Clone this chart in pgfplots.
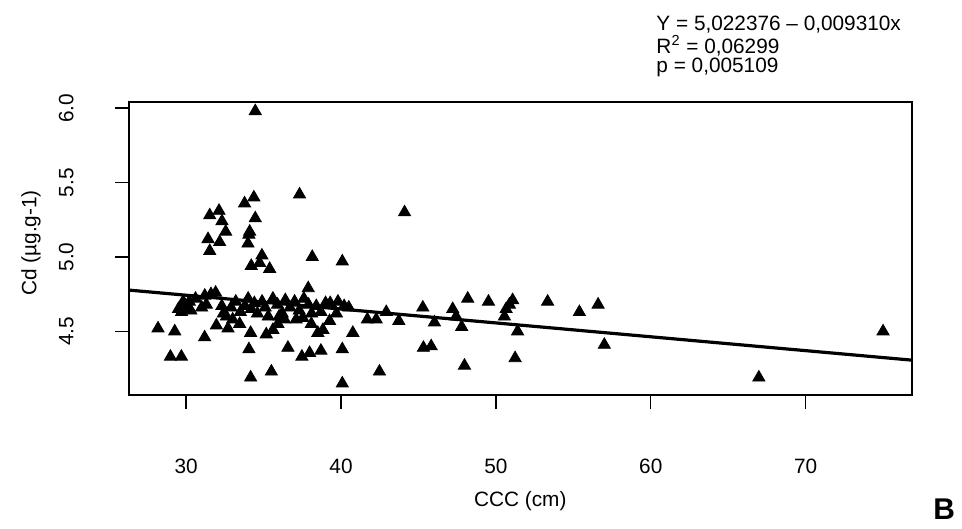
\documentclass[border=0pt]{standalone}
\usepackage{pgfplots}
\pgfplotsset{compat=1.18}
\usepackage{fontspec}
\setmainfont{Liberation Sans}
\begin{document}
\fontsize{10.4}{12.5}\selectfont
\begin{tikzpicture}
\begin{axis}[
  at={(0,0)}, anchor=south west,
  scale only axis, width=391.7pt, height=147pt,
  xmin=26.3, xmax=76.85, ymin=4.07, ymax=6.044,
  axis line style={line width=0.9pt},
  xtick={30,40,50,60,70}, xticklabels={30,40,50,60,70},
  ytick={4.5,5,5.5,6}, yticklabels={4.5,5.0,5.5,6.0},
  xtick pos=bottom, ytick pos=left,
  tick align=outside, major tick length=7pt,
  tick style={line width=0.7pt, black},
  xticklabel style={font=\fontsize{10.4}{12}\selectfont, yshift=-21pt},
  yticklabel style={font=\fontsize{10.4}{12}\selectfont, xshift=-6pt, rotate=90, anchor=south},
  yticklabel shift=11pt,
  xlabel={CCC (cm)}, ylabel={Cd (µg.g-1)},
  xlabel style={font=\fontsize{10.4}{12}\selectfont, at={(axis description cs:0.5,0)}, anchor=center, yshift=-53pt},
  every axis y label/.style={at={(axis description cs:-0.125,0.519)}, rotate=90, anchor=center, font=\fontsize{10.4}{12}\selectfont},
  clip=false,
]
\addplot[only marks, mark=triangle*, mark size=3.5pt, black] coordinates {
(34.46,5.98) (34.37,5.40) (33.77,5.36) (37.32,5.42) (34.46,5.26) (31.52,5.28)
(32.12,5.31) (32.31,5.24) (32.55,5.17) (34.10,5.17) (34.05,5.15) (31.41,5.12)
(32.16,5.10) (33.99,5.09) (31.52,5.04) (34.89,5.01) (38.14,5.00) (40.08,4.97)
(34.20,4.94) (34.74,4.96) (35.39,4.92) (37.88,4.79) (44.10,5.30)
(29.5,4.65) (29.7,4.63) (29.9,4.68) (30.1,4.66) (30.3,4.64) (29.8,4.70) (30.2,4.70)
(31.2,4.74) (31.6,4.75) (31.9,4.76) (31.3,4.68) (32.3,4.67) (32.4,4.62) (32.6,4.60)
(32.9,4.66) (33.2,4.70) (33.5,4.63) (33.8,4.67) (34.0,4.72) (34.2,4.65) (34.4,4.69)
(34.6,4.62) (34.9,4.70) (35.1,4.66) (35.3,4.60) (35.6,4.72) (35.9,4.68) (36.2,4.62)
(36.4,4.71) (36.7,4.66) (37.0,4.70) (37.3,4.64) (37.6,4.72) (37.9,4.68) (38.1,4.62)
(38.4,4.67) (38.7,4.63) (39.0,4.69) (39.3,4.69) (39.8,4.70) (40.2,4.67) (39.7,4.62)
(40.5,4.66) (30.6,4.72) (31.0,4.66) (33.0,4.58) (36.0,4.60) (37.1,4.58)
(31.95,4.54) (32.7,4.52) (33.45,4.55) (34.16,4.49) (35.17,4.48) (35.6,4.51)
(35.92,4.55) (36.35,4.58) (37.53,4.59) (38.08,4.55) (38.5,4.49) (38.83,4.51)
(39.26,4.57) (38.70,4.37)
(28.18,4.52) (29.26,4.50) (31.19,4.46) (28.98,4.33) (29.69,4.33) (34.05,4.38)
(34.16,4.19) (35.50,4.23) (36.57,4.39) (37.47,4.33) (37.97,4.355) (40.08,4.38)
(40.08,4.15) (40.76,4.49) (41.7,4.58) (42.27,4.58) (42.48,4.23) (42.92,4.63)
(43.73,4.57) (45.28,4.66) (45.32,4.39) (45.82,4.40) (46.03,4.56) (47.21,4.65)
(47.43,4.60) (47.79,4.53) (47.97,4.27) (48.18,4.72) (49.52,4.70) (51.08,4.71)
(50.87,4.68) (50.66,4.65) (50.55,4.60) (51.40,4.50) (51.24,4.32) (53.34,4.70)
(55.39,4.63) (56.60,4.68) (57.00,4.41) (66.98,4.19) (75.00,4.50)
};
\addplot[line width=1.6pt, black] coordinates {(26.3,4.777523) (76.85,4.306902)};
\end{axis}
\node[anchor=base west, inner sep=0pt, align=left, font=\fontsize{10.4}{9.7}\selectfont]
  at (263.8pt,161.6pt) {\lineskiplimit=-20pt\relax Y = 5,022376 – 0,009310x\\R\textsuperscript{2} = 0,06299\\p = 0,005109};
\node[font=\fontsize{15}{16}\selectfont\bfseries] at (408pt,-57pt) {B};
\path[use as bounding box] (-64.5pt,-66.65pt) rectangle (416.5pt,197.85pt);
\end{tikzpicture}
\end{document}
